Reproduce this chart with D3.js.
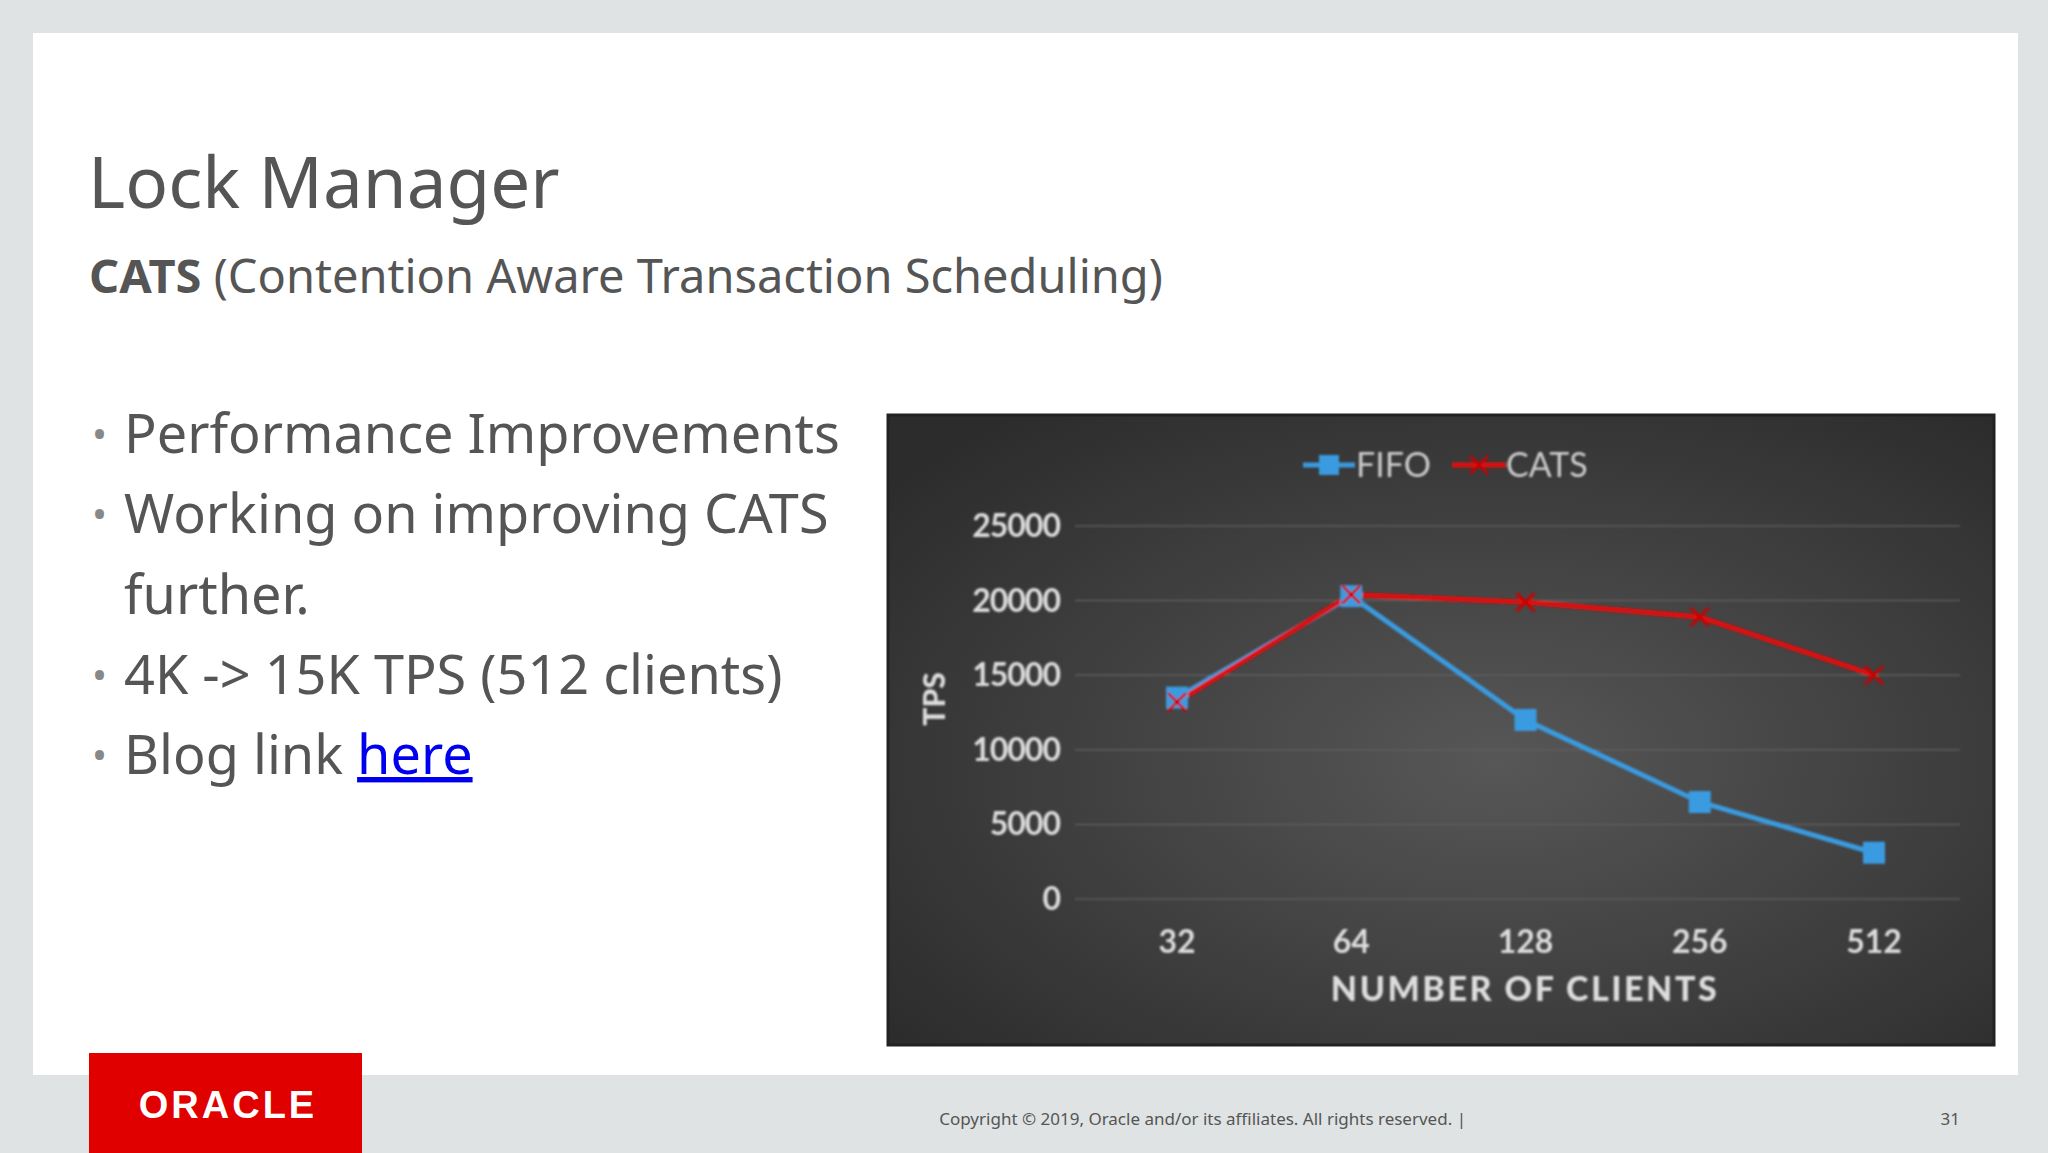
<!DOCTYPE html>
<html><head><meta charset="utf-8">
<script src="https://cdn.jsdelivr.net/npm/d3@7"></script>
<style>body{margin:0;overflow:hidden}</style>
</head><body>
<script>
const categories = ["32","64","128","256","512"];
const fifo = [13500, 20300, 12000, 6500, 3100];
const cats = [13200, 20400, 19900, 18900, 15000];
const yTicks = [0,5000,10000,15000,20000,25000];
const bullets = ["Performance Improvements","Working on improving CATS","further.","4K -> 15K TPS (512 clients)","Blog link "];

const W=2048,H=1153;
const svg=d3.select("body").append("svg").attr("width",W).attr("height",H);
const F="'Noto Sans', sans-serif";
svg.append("rect").attr("width",W).attr("height",H).attr("fill","#dfe3e3");
svg.append("rect").attr("x",33).attr("y",33).attr("width",1985).attr("height",1042).attr("fill","#fff");
svg.append("text").attr("x",88).attr("y",208).attr("font-family",F).attr("font-size",71).attr("fill","#555").text("Lock Manager");
const st=svg.append("text").attr("x",89).attr("y",293).attr("font-family",F).attr("font-size",47).attr("fill","#555");
st.append("tspan").attr("font-weight","bold").text("CATS");
st.append("tspan").text(" (Contention Aware Transaction Scheduling)");
const bys=[453,533,614,694,774];
bullets.forEach((b,i)=>{
  if(i!==2) svg.append("text").attr("x",92).attr("y",bys[i]-4).attr("font-family",F).attr("font-size",40).attr("fill","#888").text("•");
  const t=svg.append("text").attr("x",124).attr("y",bys[i]).attr("font-family",F).attr("font-size",54).attr("fill","#555").text(b);
  if(i===4) t.append("tspan").attr("fill","#0000ee").attr("text-decoration","underline").text("here");
});
// footer
svg.append("rect").attr("x",89).attr("y",1053).attr("width",273).attr("height",100).attr("fill","#e00000");
svg.append("text").attr("x",228).attr("y",1118).attr("text-anchor","middle").attr("font-family","Arial, 'Liberation Sans'").attr("font-weight","bold").attr("font-size",38).attr("letter-spacing",3).attr("fill","#fff").text("ORACLE");
svg.append("text").attr("x",1466).attr("y",1125).attr("text-anchor","end").attr("font-family",F).attr("font-size",17).attr("fill","#555").text("Copyright © 2019, Oracle and/or its affiliates. All rights reserved.  |");
svg.append("text").attr("x",1960).attr("y",1125).attr("text-anchor","end").attr("font-family",F).attr("font-size",17).attr("fill","#555").text("31");

// chart
const defs=svg.append("defs");
const g=defs.append("radialGradient").attr("id","bg").attr("cx","55%").attr("cy","55%").attr("r","70%");
g.append("stop").attr("offset","0%").attr("stop-color","#575757");
g.append("stop").attr("offset","100%").attr("stop-color","#2c2c2c");
defs.append("filter").attr("id","blur").append("feGaussianBlur").attr("stdDeviation",1.3);
svg.append("rect").attr("x",888).attr("y",415).attr("width",1106).attr("height",630).attr("fill","url(#bg)").attr("stroke","#222").attr("stroke-width",3);
const cg=svg.append("g").attr("filter","url(#blur)");
const x=d3.scalePoint().domain(categories).range([1177,1874]);
const y=d3.scaleLinear().domain([0,25000]).range([899,526]);
const CF="Lato, sans-serif";
yTicks.forEach(t=>{
  cg.append("line").attr("x1",1075).attr("x2",1960).attr("y1",y(t)).attr("y2",y(t)).attr("stroke","#5e5e5e").attr("stroke-width",1.5);
  cg.append("text").attr("x",1060).attr("y",y(t)+11).attr("text-anchor","end").attr("font-family",CF).attr("font-weight","bold").attr("font-size",32).attr("letter-spacing",-1).attr("fill","#ddd").text(t);
});
categories.forEach(c=>cg.append("text").attr("x",x(c)).attr("y",953).attr("text-anchor","middle").attr("font-family",CF).attr("font-weight","bold").attr("font-size",32).attr("fill","#ddd").text(c));
cg.append("text").attr("x",1525).attr("y",1001).attr("text-anchor","middle").attr("font-family",CF).attr("font-weight","900").attr("font-size",34).attr("letter-spacing",2.5).attr("fill","#ddd").text("NUMBER OF CLIENTS");
cg.append("text").attr("transform","translate(945,699) rotate(-90)").attr("text-anchor","middle").attr("font-family",CF).attr("font-weight","900").attr("font-size",30).attr("fill","#ddd").text("TPS");
const line=d3.line().x((d,i)=>x(categories[i])).y(d=>y(d));
cg.append("path").attr("d",line(fifo)).attr("fill","none").attr("stroke","#3a9be0").attr("stroke-width",5);
cg.append("path").attr("d",line(cats)).attr("fill","none").attr("stroke","#e01010").attr("stroke-width",5);
fifo.forEach((v,i)=>cg.append("rect").attr("x",x(categories[i])-11).attr("y",y(v)-11).attr("width",22).attr("height",22).attr("fill","#3a9be0"));
cats.forEach((v,i)=>{const cx=x(categories[i]),cy=y(v);
  cg.append("path").attr("d",`M${cx-9},${cy-9}L${cx+9},${cy+9}M${cx-9},${cy+9}L${cx+9},${cy-9}`).attr("stroke","#c00").attr("stroke-width",3);});
// legend
const ly=465;
cg.append("line").attr("x1",1303).attr("x2",1355).attr("y1",ly).attr("y2",ly).attr("stroke","#3a9be0").attr("stroke-width",5);
cg.append("rect").attr("x",1319).attr("y",ly-10).attr("width",20).attr("height",20).attr("fill","#3a9be0");
cg.append("text").attr("x",1356).attr("y",ly+12).attr("font-family",CF).attr("font-size",34).attr("fill","#ccc").text("FIFO");
cg.append("line").attr("x1",1452).attr("x2",1506).attr("y1",ly).attr("y2",ly).attr("stroke","#e01010").attr("stroke-width",5);
cg.append("path").attr("d",`M${1470},${ly-9}L${1488},${ly+9}M${1470},${ly+9}L${1488},${ly-9}`).attr("stroke","#c00").attr("stroke-width",3);
cg.append("text").attr("x",1506).attr("y",ly+12).attr("font-family",CF).attr("font-size",34).attr("fill","#ccc").text("CATS");
</script>
</body></html>
